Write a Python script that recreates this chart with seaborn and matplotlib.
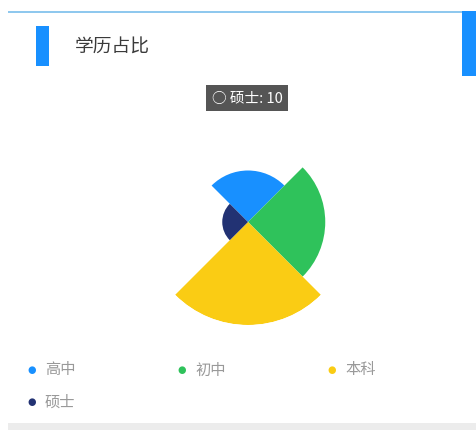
import numpy as np
import matplotlib
matplotlib.use("Agg")
import matplotlib.pyplot as plt
from matplotlib.patches import Rectangle
import seaborn as sns

# data
categories = ["高中", "初中", "本科", "硕士"]
values = [20, 30, 40, 10]
colors = ["#1890FF", "#2FC25B", "#FACC14", "#223273"]
title = "学历占比"
tooltip_idx = 3

sns.set_theme(style="white")
plt.rcParams["font.family"] = ["Noto Sans CJK SC", "DejaVu Sans"]

W, H = 477, 431
fig = plt.figure(figsize=(W / 100, H / 100), dpi=100)
fig.patch.set_facecolor("white")


def fx(px):
    return px / W


def fy(py):
    return 1 - py / H


# card decorations
fig.add_artist(Rectangle((fx(8), fy(14)), fx(462) - fx(8), 2 / H,
                         transform=fig.transFigure, color="#8fc8ee", lw=0))
fig.add_artist(Rectangle((fx(462), fy(77)), fx(477) - fx(462), 65 / H,
                         transform=fig.transFigure, color="#1890FF", lw=0))
fig.add_artist(Rectangle((fx(36), fy(67)), fx(49) - fx(36), 40 / H,
                         transform=fig.transFigure, color="#1890FF", lw=0))
fig.add_artist(Rectangle((fx(8), fy(431)), fx(477) - fx(8), 7 / H,
                         transform=fig.transFigure, color="#ececec", lw=0))
fig.text(fx(75), fy(47), title, fontsize=13.5, color="#3a3a3a", va="center", ha="left")

# rose chart (equal angles, radius ~ value)
cx, cy, rpx = 248, 223, 103
ax = fig.add_axes([fx(cx - rpx), fy(cy + rpx), 2 * rpx / W, 2 * rpx / H], projection="polar")
ax.set_theta_direction(-1)
ax.set_theta_offset(np.deg2rad(135))
step = 2 * np.pi / len(values)
theta = np.arange(len(values)) * step + step / 2
ax.bar(theta, values, width=step, color=colors, align="center", linewidth=0)
ax.set_ylim(0, max(values))
ax.set_axis_off()

# tooltip
fig.text(fx(247), fy(99), f"○ {categories[tooltip_idx]}: {values[tooltip_idx]}",
         fontsize=10.5, color="white", ha="center", va="center",
         bbox=dict(boxstyle="square,pad=0.4", fc="#555555", ec="none"))

# legend
for i, (cat, col) in enumerate(zip(categories, colors)):
    row, c = divmod(i, 3)
    x = 32 + 150 * c
    y = 370 + 32 * row
    fig.text(fx(x), fy(y), "●", color=col, fontsize=7, ha="center", va="center",
             family="DejaVu Sans")
    fig.text(fx(x + 13), fy(y), cat, color="#999999", fontsize=11, ha="left", va="center")

fig.savefig("out.png", dpi=100)
